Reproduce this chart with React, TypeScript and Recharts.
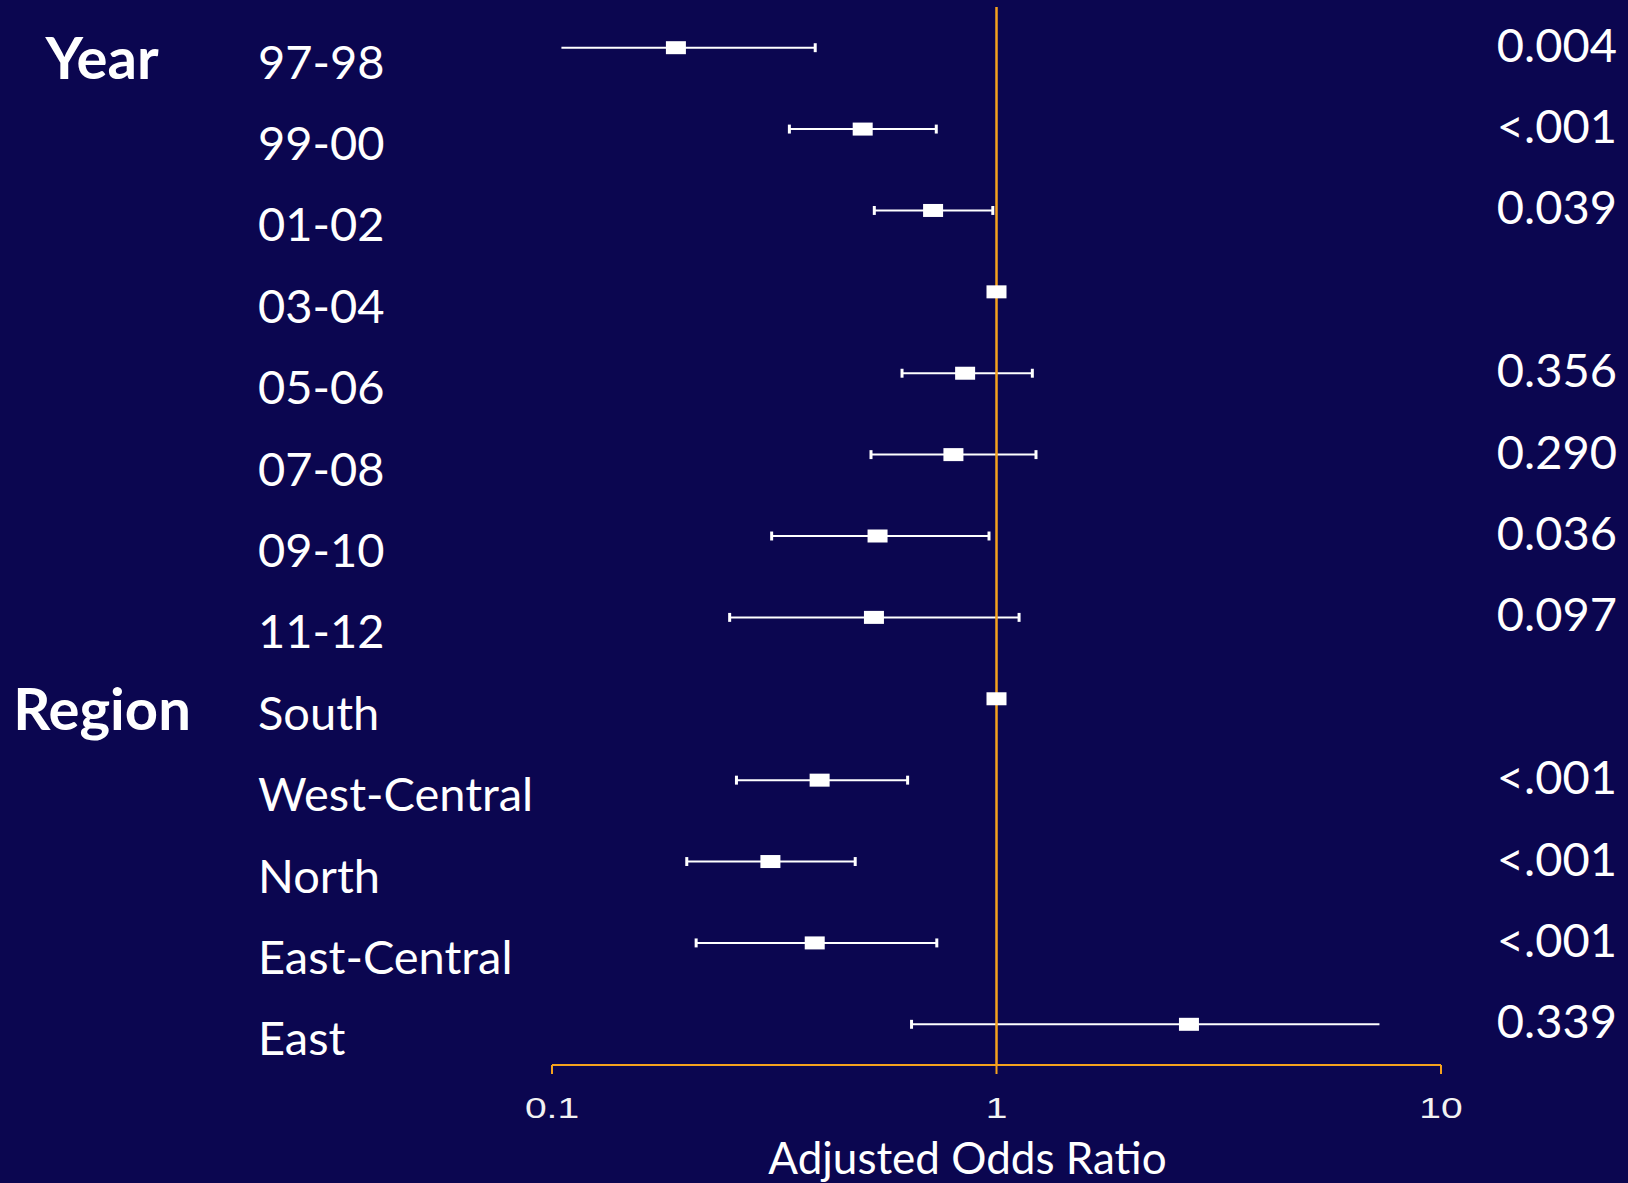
import React from 'react';
import { ScatterChart, Scatter, XAxis, YAxis, ReferenceLine, Label } from 'recharts';

const categories = ['97-98', '99-00', '01-02', '03-04', '05-06', '07-08', '09-10', '11-12', 'South', 'West-Central', 'North', 'East-Central', 'East'];
const groupHeaders = ['Year', '', '', '', '', '', '', '', 'Region', '', '', '', ''];
const oddsRatio = [0.19, 0.5, 0.72, 1.0, 0.85, 0.8, 0.54, 0.53, 1.0, 0.4, 0.31, 0.39, 2.71];
const ciLow: (number | null)[] = [0.105, 0.342, 0.531, null, 0.613, 0.522, 0.312, 0.251, null, 0.26, 0.201, 0.211, 0.644];
const ciHigh: (number | null)[] = [0.391, 0.732, 0.981, null, 1.204, 1.227, 0.962, 1.124, null, 0.631, 0.481, 0.734, 7.27];
const pValues = ['0.004', '<.001', '0.039', '', '0.356', '0.290', '0.036', '0.097', '', '<.001', '<.001', '<.001', '0.339'];
const xTicks = [0.1, 1, 10];
const rowTicks = categories.map((_, i) => i);
// whisker ends drawn without a cap in the reference
const noCapLow = ['97-98'];
const noCapHigh = ['East'];

const BG = '#0B0650';
const ORANGE = '#F5A21E';
const FONT = 'Lato, "Open Sans", sans-serif';
const CAP = 0.055;

const data = categories.map((c, i) => ({ name: c, x: oddsRatio[i], y: i }));

const LeftTick = (props: any) => {
  const { y, payload } = props;
  const i = payload.value as number;
  return (
    <g>
      {groupHeaders[i] ? (
        <text x={102} y={y + 31} textAnchor="middle" fill="#FFFFFF" fontFamily={FONT} fontWeight={700} fontSize={58}>
          {groupHeaders[i]}
        </text>
      ) : null}
      <text x={258} y={y + 31} fill="#FFFFFF" fontFamily={FONT} fontSize={47}>
        {categories[i]}
      </text>
      {pValues[i] ? (
        <text x={1617} y={y + 14} textAnchor="end" fill="#FFFFFF" fontFamily={FONT} fontSize={47}>
          {pValues[i]}
        </text>
      ) : null}
    </g>
  );
};

const XTick = (props: any) => {
  const { x, y, payload } = props;
  return (
    <text
      transform={`translate(${x} ${y + 42}) scale(1.3 1)`}
      textAnchor="middle"
      fill="#F2F2F2"
      fontFamily='"Liberation Sans", Arial, sans-serif'
      fontSize={30}
    >
      {payload.value}
    </text>
  );
};

const Box = (props: any) => {
  const { cx, cy } = props;
  return <rect x={cx - 10} y={cy - 6.5} width={20} height={13} fill="#FFFFFF" />;
};

export default function App() {
  return (
    <div style={{ position: 'absolute', left: 0, top: 0, width: 1628, height: 1183, background: BG }}>
      <ScatterChart width={1628} height={1183} margin={{ top: 7, right: 187, bottom: 8, left: 12 }}>
        <XAxis
          type="number"
          dataKey="x"
          scale="log"
          domain={[0.1, 10]}
          ticks={xTicks}
          allowDataOverflow
          height={110}
          axisLine={{ stroke: ORANGE, strokeWidth: 2 }}
          tickLine={{ stroke: ORANGE, strokeWidth: 2 }}
          tickSize={9}
          tickMargin={2}
          tick={<XTick />}
          interval={0}
        >
          <Label
            content={(p: any) => {
              const vb = p.viewBox || { x: 552, y: 1065, width: 889 };
              return (
                <text
                  x={vb.x + vb.width / 2 - 29}
                  y={vb.y + 109}
                  textAnchor="middle"
                  fill="#FFFFFF"
                  fontFamily={FONT}
                  fontSize={44}
                >
                  Adjusted Odds Ratio
                </text>
              );
            }}
          />
        </XAxis>
        <YAxis
          yAxisId="left"
          type="number"
          dataKey="y"
          domain={[-0.5, 12.5]}
          ticks={rowTicks}
          reversed
          width={540}
          axisLine={false}
          tickLine={false}
          interval={0}
          tick={<LeftTick />}
        />
        {categories.map((c, i) =>
          ciLow[i] != null && ciHigh[i] != null ? (
            <ReferenceLine
              key={'w' + i}
              yAxisId="left"
              segment={[{ x: ciLow[i] as number, y: i }, { x: ciHigh[i] as number, y: i }]}
              stroke="#FFFFFF"
              strokeWidth={2}
            />
          ) : null
        )}
        {categories.map((c, i) =>
          ciLow[i] != null && !noCapLow.includes(c) ? (
            <ReferenceLine
              key={'cl' + i}
              yAxisId="left"
              segment={[{ x: ciLow[i] as number, y: i - CAP }, { x: ciLow[i] as number, y: i + CAP }]}
              stroke="#FFFFFF"
              strokeWidth={3}
            />
          ) : null
        )}
        {categories.map((c, i) =>
          ciHigh[i] != null && !noCapHigh.includes(c) ? (
            <ReferenceLine
              key={'ch' + i}
              yAxisId="left"
              segment={[{ x: ciHigh[i] as number, y: i - CAP }, { x: ciHigh[i] as number, y: i + CAP }]}
              stroke="#FFFFFF"
              strokeWidth={3}
            />
          ) : null
        )}
        <ReferenceLine yAxisId="left" x={1} stroke={ORANGE} strokeWidth={2.5} />
        <Scatter yAxisId="left" data={data} dataKey="x" shape={<Box />} isAnimationActive={false} />
      </ScatterChart>
    </div>
  );
}
